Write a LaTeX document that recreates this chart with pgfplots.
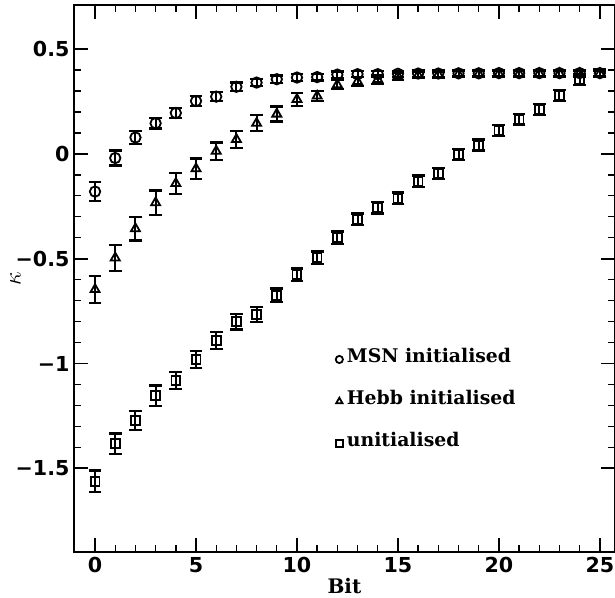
\documentclass[border=0pt]{standalone}
\usepackage{fontspec}
\setmainfont{DejaVu Serif}
\newfontfamily\tickfont{DejaVu Sans}
\usepackage{pgfplots}
\pgfplotsset{compat=1.18}
\usepackage{pgfplotstable}

\pgfplotstableread{
x y e
0 -0.180 0.045
1 -0.020 0.036
2 0.078 0.032
3 0.146 0.025
4 0.195 0.025
5 0.252 0.025
6 0.273 0.022
7 0.320 0.020
8 0.340 0.018
9 0.356 0.018
10 0.364 0.016
11 0.366 0.016
12 0.378 0.015
13 0.380 0.015
14 0.380 0.015
15 0.382 0.015
16 0.383 0.015
17 0.383 0.015
18 0.384 0.015
19 0.384 0.015
20 0.385 0.015
21 0.385 0.015
22 0.385 0.015
23 0.385 0.015
24 0.385 0.015
25 0.385 0.015
}\msn

\pgfplotstableread{
x y e
0 -0.647 0.065
1 -0.496 0.062
2 -0.357 0.056
3 -0.233 0.058
4 -0.141 0.050
5 -0.071 0.049
6 0.013 0.041
7 0.069 0.041
8 0.146 0.038
9 0.190 0.036
10 0.260 0.030
11 0.276 0.025
12 0.330 0.022
13 0.345 0.020
14 0.355 0.020
15 0.370 0.018
16 0.375 0.015
17 0.378 0.015
18 0.380 0.015
19 0.381 0.015
20 0.382 0.015
21 0.382 0.015
22 0.383 0.015
23 0.383 0.015
24 0.383 0.015
25 0.383 0.015
}\hebb

\pgfplotstableread{
x y e
0 -1.562 0.052
1 -1.382 0.048
2 -1.272 0.044
3 -1.153 0.048
4 -1.081 0.041
5 -0.981 0.042
6 -0.890 0.040
7 -0.801 0.037
8 -0.766 0.037
9 -0.675 0.033
10 -0.577 0.030
11 -0.496 0.030
12 -0.400 0.030
13 -0.313 0.028
14 -0.257 0.028
15 -0.212 0.028
16 -0.130 0.027
17 -0.093 0.027
18 -0.002 0.026
19 0.042 0.026
20 0.112 0.026
21 0.165 0.025
22 0.212 0.025
23 0.278 0.025
24 0.355 0.025
25 0.385 0.020
}\unin

\begin{document}
\begin{tikzpicture}
\begin{axis}[
  name=ax,
  scale only axis,
  width=270.4pt, height=273.4pt,
  xmin=-1.05, xmax=25.75,
  ymin=-1.9, ymax=0.71,
  axis line style={line width=1pt},
  tick align=inside,
  xtick pos=both, ytick pos=both,
  major tick length=7pt, minor tick length=3.5pt,
  every tick/.style={black, line width=0.9pt},
  minor tick style={line width=0.7pt},
  xtick={0,5,10,15,20,25},
  xticklabels={0,5,10,15,20,25},
  minor x tick num=4,
  ytick={-1.5,-1,-0.5,0,0.5},
  yticklabels={−1.5,−1,−0.5,0,0.5},
  minor y tick num=4,
  ticklabel style={font=\tickfont\bfseries\fontsize{10.3}{12}\selectfont},
  xticklabel style={inner sep=0pt, yshift=-2.5pt},
  yticklabel style={inner sep=0pt, xshift=-2pt},
  xlabel={Bit},
  xlabel style={font=\bfseries\fontsize{10}{12}\selectfont, inner sep=0pt, at={(axis description cs:0.5,0)}, anchor=north, yshift=-13pt},
  ylabel={$\kappa$},
  ylabel style={at={(axis description cs:-0.108,0.5)}, anchor=center, inner sep=0pt, font=\fontsize{13}{15}\selectfont},
  legend style={draw=none, fill=none, at={(axis cs:11.9,-0.905)}, anchor=north west,
    font=\bfseries\fontsize{9.4}{11}\selectfont, row sep=8.3pt, inner sep=0pt,
    cells={anchor=west}},
  legend image code/.code={\draw[#1, mark size=1.8pt, line width=0.8pt] plot coordinates {(0.08cm,-0.05cm)};},
  error bars/y dir=both,
  error bars/y explicit,
  error bars/error bar style={line width=1pt, black},
  error bars/error mark options={rotate=90, mark size=3.2pt, line width=1.1pt, black},
]
\addplot[only marks, mark=o, mark size=2.6pt, mark options={line width=0.9pt, black}]
  table[x=x, y=y, y error=e] {\msn};
\addlegendentry{MSN initialised}
\addplot[only marks, mark=triangle, mark size=2.6pt, mark options={line width=0.9pt, black}]
  table[x=x, y=y, y error=e] {\hebb};
\addlegendentry{Hebb initialised}
\addplot[only marks, mark=square, mark size=2.2pt, mark options={line width=0.9pt, black}]
  table[x=x, y=y, y error=e] {\unin};
\addlegendentry{unitialised}
\end{axis}
\pgfresetboundingbox
\useasboundingbox ([shift={(-36.9pt,-22.5pt)}]ax.south west) rectangle ([shift={(0pt,2.5pt)}]ax.north east);
\end{tikzpicture}
\end{document}
